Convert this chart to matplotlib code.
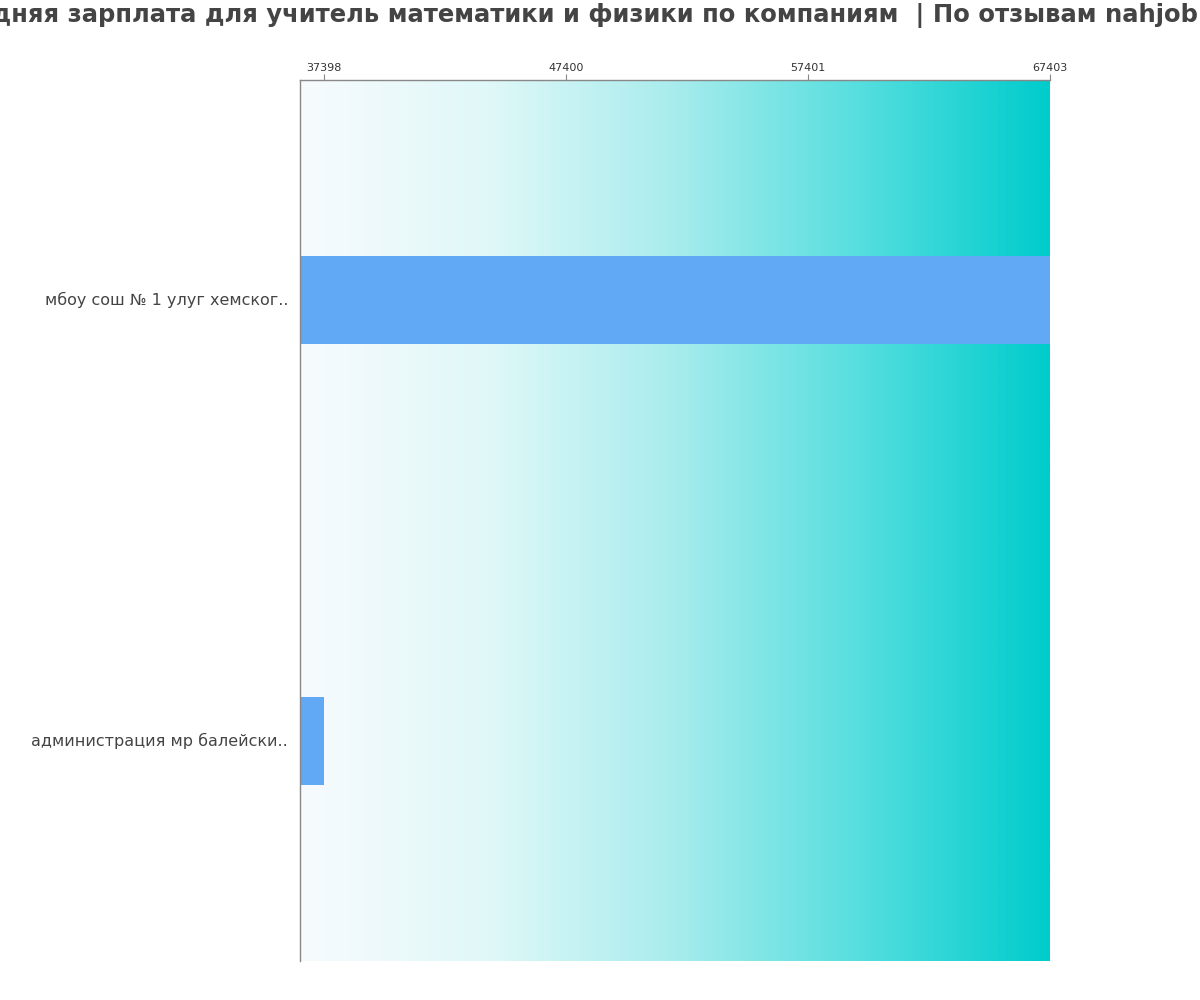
import matplotlib
matplotlib.use("Agg")
import matplotlib.pyplot as plt
import numpy as np
from matplotlib.colors import LinearSegmentedColormap

companies = ["мбоу сош № 1 улуг хемског..", "администрация мр балейски.."]
salaries = [67403, 37398]
tick_values = [37398, 47400, 57401, 67403]
tick_labels = ["37398", "47400", "57401", "67403"]
title = "Средняя зарплата для учитель математики и физики по компаниям  | По отзывам nahjob.ru"

plt.rcParams['font.family'] = ['DejaVu Sans']

fig = plt.figure(figsize=(12, 10), dpi=100)
ax = fig.add_axes([0.25, 0.039, 0.625, 0.881])

xmin = 36406
xmax = 67403
ax.set_xlim(xmin, xmax)
ax.set_ylim(len(companies) - 0.5, -0.5)

cmap = LinearSegmentedColormap.from_list("bg", ["#f7fbfe", "#e0f8f8", "#a8eced", "#55dede", "#00cccc"])
grad = np.linspace(0, 1, 512).reshape(1, -1)
ax.imshow(grad, extent=[xmin, xmax, len(companies) - 0.5, -0.5], aspect='auto', cmap=cmap, zorder=0)

y = np.arange(len(companies))
ax.barh(y, [s - xmin for s in salaries], left=xmin, height=0.2, color="#61a8f5", zorder=2)

ax.set_yticks(y)
ax.set_yticklabels(companies, fontsize=11.5, color="#444444", va='center')
ax.tick_params(axis='y', length=0, pad=8.5)

ax.xaxis.tick_top()
ax.set_xticks(tick_values)
ax.set_xticklabels(tick_labels, fontsize=8, color="#333333")
ax.tick_params(axis='x', length=4, color="#888888", pad=1)

for side in ['right', 'bottom']:
    ax.spines[side].set_visible(False)
for side in ['top', 'left']:
    ax.spines[side].set_color("#888888")
    ax.spines[side].set_linewidth(1)

fig.text(0.49, 0.997, title, ha='center', va='top', fontsize=17.5, fontweight='bold', color="#444444")

fig.savefig("out.png", dpi=100)
